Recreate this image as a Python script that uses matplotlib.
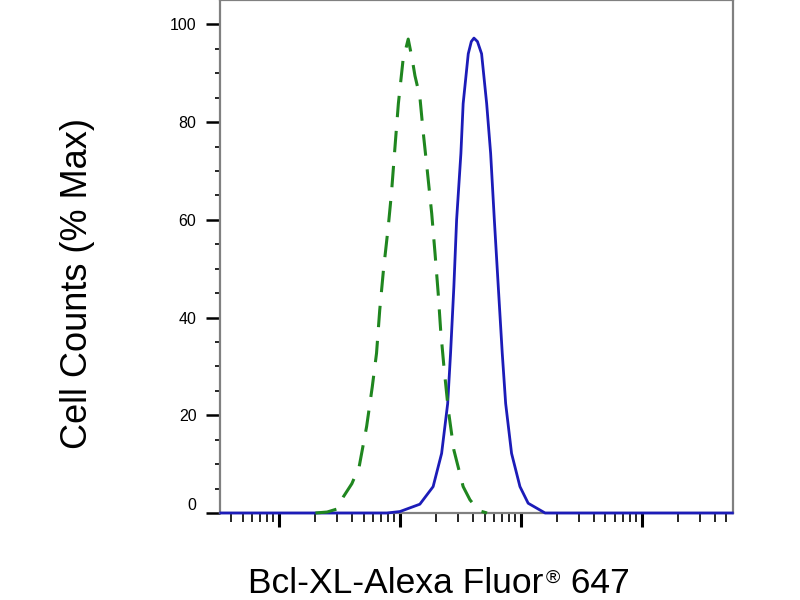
import matplotlib
matplotlib.use("Agg")
import matplotlib.pyplot as plt
from matplotlib.ticker import FixedLocator, NullFormatter

plt.rcParams["font.family"] = ["Liberation Sans", "DejaVu Sans"]

# stained sample (solid blue)
stained_x = [3.3, 78, 100, 146, 188, 221, 248, 262, 279, 294, 319, 333, 367, 389,
             409, 437, 473, 521, 562, 603, 650, 701, 748, 837, 982, 1148, 1585, 56000]
stained_y = [0, 0, 0.3, 1.8, 5.4, 12.2, 22.4, 32.7, 46.3, 60.0, 73.6, 83.8, 94.0, 96.5,
             97.2, 96.5, 94.0, 83.8, 73.6, 60.0, 46.3, 32.7, 22.4, 12.2, 5.4, 2.0, 0, 0]

# control (dashed green)
control_x = [20, 25, 30, 34, 40, 46, 53, 59, 64, 68, 73, 80, 85, 91, 97, 106, 117,
             126, 133, 146, 156, 168, 183, 195, 207, 217, 231, 251, 279, 333, 379, 447, 525]
control_y = [0, 0.2, 0.8, 3.3, 6.0, 9.5, 17.7, 25.8, 32.7, 41.5, 49.7, 58.6, 65.4, 75.0,
             83.8, 92.7, 97.0, 93.0, 89.5, 85.2, 77.7, 70.2, 61.3, 53.1, 45.0, 37.4, 29.9,
             21.1, 12.9, 5.4, 2.7, 0.5, 0]

y_major = [0, 20, 40, 60, 80, 100]
y_minor = [5, 10, 15, 25, 30, 35, 45, 50, 55, 65, 70, 75, 85, 90, 95]
x_major = [10, 100, 1000, 10000]
x_minor = [m * d for d in [1, 10, 100, 1000, 10000] for m in range(2, 10)]

fig = plt.figure(figsize=(8, 6), dpi=100)
ax = fig.add_axes([0.275, 0.145, 0.641, 0.855])

ax.plot(stained_x, stained_y, color="#1c1cb8", lw=2.0, zorder=3, clip_on=False)
ax.plot(control_x, control_y, color="#1f861f", lw=2.2, dashes=(7, 4.5), zorder=4, clip_on=False)

ax.set_xscale("log")
ax.set_xlim(3.25, 56500)
ax.set_ylim(0, 105)

ax.xaxis.set_major_locator(FixedLocator(x_major))
ax.xaxis.set_minor_locator(FixedLocator(x_minor))
ax.xaxis.set_major_formatter(NullFormatter())
ax.xaxis.set_minor_formatter(NullFormatter())
ax.set_yticks(y_major)
ax.yaxis.set_minor_locator(FixedLocator(y_minor))

ax.tick_params(axis="x", which="major", length=10, width=2.2, color="black")
ax.tick_params(axis="x", which="minor", length=6.5, width=1.2, color="black")
ax.tick_params(axis="y", which="major", length=10, width=1.8, color="black",
               labelsize=11.5, pad=7)
ax.tick_params(axis="y", which="minor", length=3.5, width=1.2, color="black")
ax.get_yticklabels()[0].set_va("bottom")

for s in ax.spines.values():
    s.set_color("#808080")
    s.set_linewidth(1.6)

fig.text(0.0975, 0.527, "Cell Counts (% Max)", rotation=90, ha="center", va="center",
         fontsize=26)

# x label in three pieces so the registered sign can be small and raised
renderer = fig.canvas.get_renderer()
base_y = 7 / 600
t1 = fig.text(248 / 800, base_y, "Bcl-XL-Alexa Fluor", ha="left", va="baseline", fontsize=25.5)
x1 = t1.get_window_extent(renderer).x1
t2 = fig.text((x1 + 2) / 800, base_y + 10 / 600, "®", ha="left", va="baseline", fontsize=14)
x2 = t2.get_window_extent(renderer).x1
fig.text((x2 + 1) / 800, base_y, " 647", ha="left", va="baseline", fontsize=25.5)

fig.savefig("out.png", dpi=100)
